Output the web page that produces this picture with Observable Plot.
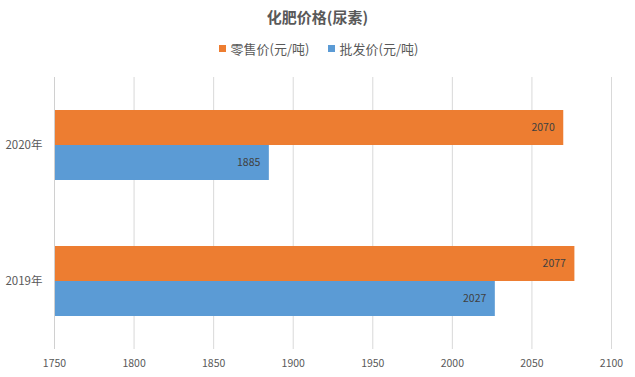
<!DOCTYPE html>
<html>
<head>
<meta charset="utf-8">
<script src="https://cdn.jsdelivr.net/npm/d3@7"></script>
<script src="https://cdn.jsdelivr.net/npm/@observablehq/plot@0.6"></script>
<style>
  html, body { margin: 0; padding: 0; background: #fff; }
  body { width: 635px; height: 377px; overflow: hidden; font-family: "Noto Sans CJK SC", "Noto Sans", sans-serif; }
  #title { height: 33px; line-height: 34px; text-align: center; font-size: 15px; font-weight: bold; color: #595959; }
  #legend { height: 30px; display: flex; justify-content: center; align-items: center; font-size: 13px; color: #595959; gap: 18px; padding-left: 2px; }
  .item { display: flex; align-items: center; }
  .sw { width: 7px; height: 7px; margin-right: 5px; }
  svg { display: block; }
</style>
</head>
<body>
<div id="title">化肥价格(尿素)</div>
<div id="legend"></div>
<div id="chart"></div>
<script>
const years = ["2020年", "2019年"];
const seriesNames = ["零售价(元/吨)", "批发价(元/吨)"];
const retail = [2070, 2077];
const wholesale = [1885, 2027];
const xTicks = [1750, 1800, 1850, 1900, 1950, 2000, 2050, 2100];
const colors = ["#ED7D31", "#5B9BD5"];

const data = years.flatMap((yr, i) => [
  {year: yr, s: seriesNames[0], v: retail[i]},
  {year: yr, s: seriesNames[1], v: wholesale[i]}
]);

const legend = document.getElementById("legend");
seriesNames.forEach((n, i) => {
  const it = document.createElement("div");
  it.className = "item";
  it.innerHTML = `<span class="sw" style="background:${colors[i]}"></span><span>${n}</span>`;
  legend.appendChild(it);
});

const chart = Plot.plot({
  width: 635,
  height: 314,
  marginLeft: 54,
  marginRight: 24,
  marginTop: 13,
  marginBottom: 28,
  style: {fontFamily: "'Noto Sans CJK SC', 'Noto Sans', sans-serif", background: "#fff"},
  x: {domain: [1750, 2100]},
  fy: {domain: years, padding: 0, label: null},
  y: {domain: seriesNames, paddingInner: 0, paddingOuter: 0.915, axis: null},
  color: {domain: seriesNames, range: colors},
  marks: [
    Plot.gridX(xTicks, {stroke: "#d9d9d9", strokeOpacity: 1}),
    Plot.barX(data, {fy: "year", y: "s", x1: 1750, x2: "v", fill: "s"}),
    Plot.ruleX([1750], {stroke: "#d0d0d0"}),
    Plot.text(data, {fy: "year", y: "s", x: "v", text: d => String(d.v), textAnchor: "end", dx: -9, fill: "#404040", fontSize: 10.5}),
    Plot.axisX(xTicks, {tickSize: 0, tickPadding: 10, fontSize: 10.5, fill: "#595959", label: null, tickFormat: d => String(d)}),
    Plot.axisFy({anchor: "left", tickSize: 0, tickPadding: 12, fontSize: 11.5, fill: "#595959", label: null})
  ]
});
document.getElementById("chart").appendChild(chart);
</script>
</body>
</html>
